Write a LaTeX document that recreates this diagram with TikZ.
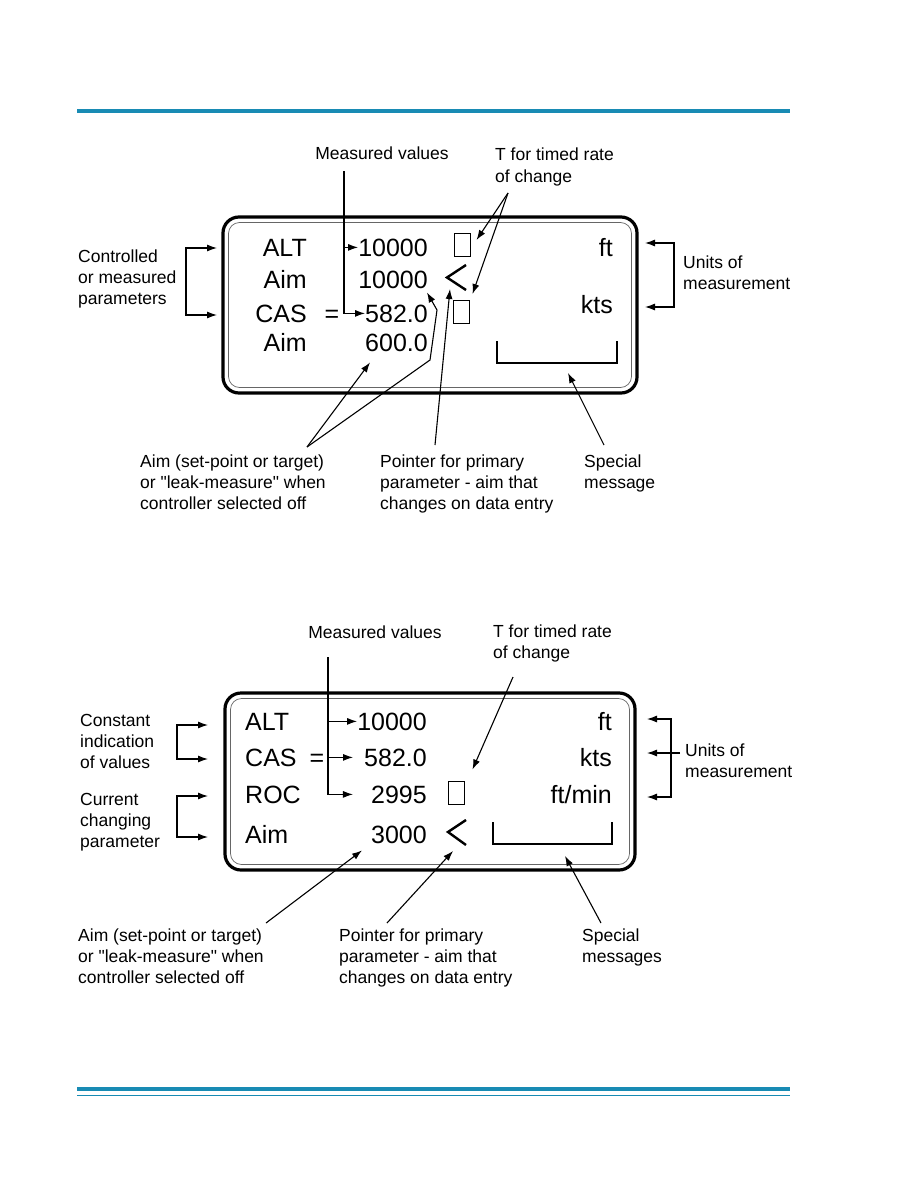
\documentclass[tikz,border=0pt]{standalone}
\usepackage{fontspec}
\setmainfont{Liberation Sans}[Ligatures=TeXOff]
\usetikzlibrary{arrows.meta}
\definecolor{rulecol}{RGB}{24,139,180}

\begin{document}
\begin{tikzpicture}[x=1pt,y=-1pt,
    lbl/.style={font=\fontsize{17.5}{21}\selectfont,align=left,anchor=base west,inner sep=0pt},
    disp/.style={font=\fontsize{25}{30}\selectfont,inner sep=0pt},
    e/.style={-{Latex[length=10pt,width=7pt]},line width=1.1pt},
    ee/.style={{Latex[length=10pt,width=7pt]}-{Latex[length=10pt,width=7pt]},line width=1.1pt},
    scr/.style={draw,line width=3.2pt,rounded corners=16pt},
    scrin/.style={draw=black!60,line width=.7pt,rounded corners=11pt},
    tbox/.style={draw,line width=1pt,minimum width=16pt,minimum height=23pt,inner sep=0pt},
    chev/.style={line width=2.4pt},
    msg/.style={line width=1.5pt}
  ]
    \useasboundingbox (0,0) rectangle (918,1188);
    \draw[rulecol,line width=4pt] (77,111) -- (790,111);
    % upper display
    \node[scr,minimum width=414pt,minimum height=176pt] (s1) at (430,305) {};
    \node[scrin,minimum width=403pt,minimum height=165pt] at (s1) {};
    \foreach \i/\y/\a/\b in {1/256/ALT/10000,2/288/Aim/10000,3/322/CAS/582.0,4/351/Aim/600.0}
      {\node[disp,anchor=base east] (p\i) at (307,\y) {\a}; \node[disp,anchor=base east] (n\i) at (428,\y) {\b};}
    \node[disp,anchor=base] (eq1) at (332,322) {=};
    \node[disp,anchor=base east] (u1) at (613,256) {ft}; \node[disp,anchor=base east] (u2) at (613,313) {kts};
    \node[tbox] (t1) at (462,245) {}; \node[tbox] (t2) at (461,312) {};
    \coordinate (c1) at (447,277.5); \draw[chev] (466,265) -- (c1) -- (466,290);
    \coordinate (mb1) at (557,363); \draw[msg] (497,341) |- (617,363) -- (617,341);
    % labels (base = last line)
    \node[lbl,anchor=base] (mv1) at (382,160) {Measured values};
    \node[lbl] (tr1) at (495,182) {T for timed rate\\of change};
    \node[lbl] (cp1) at (78,304) {Controlled\\or measured\\parameters};
    \node[lbl] (um1) at (683,289) {Units of\\measurement};
    \node[lbl] (am1) at (140,509) {Aim (set-point or target)\\or "leak-measure" when\\controller selected off};
    \node[lbl] (pp1) at (380,509) {Pointer for primary\\parameter - aim that\\changes on data entry};
    \node[lbl] (sm1) at (584,488) {Special\\message};
    \coordinate (mvt1) at (344,171); \coordinate (trt1) at (508,193);
    \coordinate (amt1) at (307,447); \coordinate (ppt1) at (435,445); \coordinate (smt1) at (604,445);
    \coordinate (cpa) at (217,248); \coordinate (cpb) at (217,315);
    \coordinate (uma) at (645,243); \coordinate (umb) at (645,307);
    \draw[e] (mvt1) |- (n1.west); \draw[e] (mvt1) |- (n3.west);
    \draw[e] (trt1) -- ([shift={(6,-5)}]t1.east); \draw[e] (trt1) -- ([shift={(3,-6)}]t2.north east);
    \draw[e] (amt1) -- ([shift={(5,11)}]n4.south west);
    \draw[e] (amt1) -- (430,360) -- (437,310) -- ([shift={(-1,4)}]n2.south east);
    \draw[e] (ppt1) -- ([shift={(3,11.5)}]c1);
    \draw[e] (smt1) -- ([shift={(11,10)}]mb1);
    \draw[ee] (cpa) -- (186,248) -- (186,315) -- (cpb);
    \draw[ee] (uma) -- (674,243) -- (674,307) -- (umb);
    % lower display
    \node[scr,minimum width=410pt,minimum height=177pt] (s2) at (430,781.5) {};
    \node[scrin,minimum width=399pt,minimum height=166pt] at (s2) {};
    \foreach \i/\y/\a/\b in {1/730/ALT/10000,2/766/CAS/582.0,3/803/ROC/2995,4/843/Aim/3000}
      {\node[disp,anchor=base west] (q\i) at (245,\y) {\a}; \node[disp,anchor=base east] (m\i) at (427,\y) {\b};}
    \node[disp,anchor=base] (eq2) at (317,766) {=};
    \node[disp,anchor=base east] (w1) at (612,730) {ft}; \node[disp,anchor=base east] (w2) at (612,766) {kts};
    \node[disp,anchor=base east] (w3) at (612,803) {ft/min};
    \node[tbox] (t3) at (456,792.5) {};
    \coordinate (c2) at (448,832); \draw[chev] (466,820) -- (c2) -- (466,845);
    \coordinate (mb2) at (552,844); \draw[msg] (493,822) |- (612,844) -- (612,822);
    \node[lbl,anchor=base] (mv2) at (375,638) {Measured values};
    \node[lbl] (tr2) at (493,658) {T for timed rate\\of change};
    \node[lbl] (ci2) at (80,768) {Constant\\indication\\of values};
    \node[lbl] (cc2) at (80,847) {Current\\changing\\parameter};
    \node[lbl] (um2) at (685,777) {Units of\\measurement};
    \node[lbl] (am2) at (78,983) {Aim (set-point or target)\\or "leak-measure" when\\controller selected off};
    \node[lbl] (pp2) at (339,983) {Pointer for primary\\parameter - aim that\\changes on data entry};
    \node[lbl] (sm2) at (582,962) {Special\\messages};
    \coordinate (mvt2) at (328,657); \coordinate (trt2) at (513,677);
    \coordinate (amt2) at (266,923); \coordinate (ppt2) at (387,923); \coordinate (smt2) at (601,923);
    \coordinate (cia) at (208,725); \coordinate (cib) at (208,759);
    \coordinate (cca) at (208,796); \coordinate (ccb) at (208,837);
    \coordinate (uma2) at (647,719); \coordinate (umb2) at (647,753); \coordinate (umc2) at (647,797);
    \draw[e] (mvt2) |- (m1.west); \draw[e] (mvt2) |- ([xshift=-11pt]m2.west);
    \draw[e] (mvt2) |- ([xshift=-18pt]m3.west);
    \draw[e] (trt2) -- ([shift={(8,-11)}]t3.north east);
    \draw[e] (amt2) -- ([shift={(-9,7)}]m4.south west);
    \draw[e] (ppt2) -- ([shift={(5,19)}]c2);
    \draw[e] (smt2) -- ([shift={(13,12)}]mb2);
    \draw[ee] (cia) -- (177,725) -- (177,759) -- (cib);
    \draw[ee] (cca) -- (177,796) -- (177,837) -- (ccb);
    \draw[ee] (uma2) -- (671,719) -- (671,797) -- (umc2);
    \draw[e] (680,753) -- (umb2);
    \draw[rulecol,line width=4pt] (77,1089) -- (790,1089);
    \draw[rulecol,line width=1pt] (77,1095.5) -- (790,1095.5);
  \end{tikzpicture}
\end{document}
